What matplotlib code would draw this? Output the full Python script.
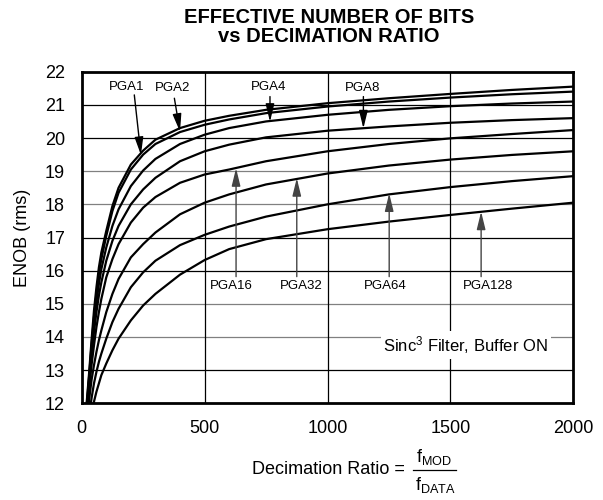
import numpy as np
import matplotlib
matplotlib.use("Agg")
import matplotlib.pyplot as plt
from matplotlib.lines import Line2D

plt.rcParams["font.family"] = ["Liberation Sans", "DejaVu Sans"]
plt.rcParams["mathtext.fontset"] = "custom"
plt.rcParams["mathtext.rm"] = "Liberation Sans"
plt.rcParams["mathtext.it"] = "Liberation Sans:italic"
plt.rcParams["mathtext.bf"] = "Liberation Sans:bold"

### Data ###
decimation = [20, 30, 40, 50, 60, 70, 80, 100, 125, 150, 200, 250, 300,
              400, 500, 600, 750, 1000, 1250, 1500, 1750, 2000]

enob_pga1 = [12.0, 12.9, 13.9, 14.8, 15.5, 16.1, 16.55, 17.2, 17.95, 18.5, 19.2, 19.62, 19.95,
             20.3, 20.52, 20.67, 20.85, 21.05, 21.2, 21.33, 21.45, 21.55]
enob_pga2 = [11.9, 12.8, 13.75, 14.6, 15.3, 15.9, 16.35, 17.05, 17.8, 18.35, 19.05, 19.5, 19.82,
             20.18, 20.4, 20.56, 20.75, 20.95, 21.1, 21.22, 21.32, 21.4]
enob_pga4 = [11.8, 12.7, 13.6, 14.4, 15.05, 15.6, 16.05, 16.7, 17.35, 17.85, 18.55, 19.02, 19.37,
             19.82, 20.1, 20.3, 20.5, 20.7, 20.85, 20.96, 21.04, 21.1]
enob_pga8 = [11.7, 12.6, 13.45, 14.15, 14.75, 15.25, 15.65, 16.3, 16.9, 17.35, 18.0, 18.45, 18.8,
             19.3, 19.6, 19.8, 20.02, 20.22, 20.35, 20.46, 20.54, 20.6]
enob_pga16 = [11.5, 12.4, 13.15, 13.75, 14.3, 14.75, 15.15, 15.8, 16.35, 16.8, 17.45, 17.9, 18.22,
              18.65, 18.9, 19.05, 19.3, 19.6, 19.82, 19.99, 20.12, 20.24]
enob_pga32 = [11.3, 12.1, 12.7, 13.15, 13.55, 13.9, 14.2, 14.75, 15.3, 15.75, 16.4, 16.8, 17.15,
              17.7, 18.05, 18.3, 18.6, 18.93, 19.17, 19.35, 19.49, 19.6]
enob_pga64 = [10.9, 11.6, 12.15, 12.6, 12.95, 13.25, 13.5, 13.95, 14.45, 14.85, 15.5, 15.95, 16.3,
              16.77, 17.08, 17.33, 17.63, 18.0, 18.3, 18.52, 18.7, 18.85]
enob_pga128 = [10.5, 11.2, 11.7, 12.05, 12.35, 12.6, 12.85, 13.2, 13.6, 13.95, 14.5, 14.95, 15.3,
               15.88, 16.32, 16.65, 16.95, 17.25, 17.48, 17.68, 17.87, 18.05]

curves = [enob_pga1, enob_pga2, enob_pga4, enob_pga8,
          enob_pga16, enob_pga32, enob_pga64, enob_pga128]

x_ticks = [0, 500, 1000, 1500, 2000]
y_ticks = list(range(12, 23))
gray_rows = [14, 15, 18, 19]

# label, text pos, arrow start, arrow tip
labels = [
    ("PGA1", (183, 21.53), (214, 21.30), (241, 19.49), "black"),
    ("PGA2", (370, 21.50), (377, 21.20), (400, 20.19), "black"),
    ("PGA4", (762, 21.53), (766, 21.25), (766, 20.49), "black"),
    ("PGA8", (1143, 21.50), (1146, 21.25), (1146, 20.29), "black"),
    ("PGA16", (610, 15.55), (628, 15.82), (628, 19.09), "#444444"),
    ("PGA32", (892, 15.55), (875, 15.82), (875, 18.79), "#444444"),
    ("PGA64", (1235, 15.55), (1251, 15.82), (1251, 18.33), "#444444"),
    ("PGA128", (1653, 15.55), (1625, 15.82), (1625, 17.78), "#444444"),
]

### Figure ###
fig = plt.figure(figsize=(6.03, 5.0), dpi=100)
ax = fig.add_axes([81.7 / 603, 1 - 403.3 / 500, (573.3 - 81.7) / 603, (403.3 - 71.7) / 500])

for y in y_ticks[1:-1]:
    ax.axhline(y, color="#808080" if y in gray_rows else "black", lw=0.9, zorder=1)
for x in x_ticks[1:-1]:
    ax.axvline(x, color="black", lw=0.9, zorder=1)

for enob in curves:
    ax.plot(decimation, enob, color="black", lw=1.6, zorder=3, solid_joinstyle="round")

for name, txt, start, tip, col in labels:
    ax.text(txt[0], txt[1], name, ha="center", va="center", fontsize=9.5, zorder=5)
    ax.annotate("", xy=tip, xytext=start,
                arrowprops=dict(arrowstyle="-|>,head_length=0.9,head_width=0.22",
                                color=col, lw=1.0, shrinkA=0, shrinkB=0,
                                mutation_scale=12),
                zorder=4)

ax.text(1898, 13.75, "Sinc$^3$ Filter, Buffer ON", ha="right", va="center", fontsize=12,
        bbox=dict(fc="white", ec="none", pad=2), zorder=4)

ax.set_xlim(0, 2000)
ax.set_ylim(12, 22)
ax.set_xticks(x_ticks)
ax.set_yticks(y_ticks)
ax.tick_params(length=0, pad=12, labelsize=13)
for sp in ax.spines.values():
    sp.set_linewidth(2.0)
    sp.set_zorder(6)

ax.set_ylabel("ENOB (rms)", fontsize=13, labelpad=10)

# x label with a hand-built fraction
fig.text(328 / 603, 1 - 469 / 500, "Decimation Ratio =", ha="center", va="center", fontsize=13)
fig.text(434 / 603, 1 - 457 / 500, r"f$_\mathrm{MOD}$", ha="center", va="center", fontsize=13)
fig.text(435 / 603, 1 - 485 / 500, r"f$_\mathrm{DATA}$", ha="center", va="center", fontsize=13)
fig.add_artist(Line2D([413 / 603, 456 / 603], [1 - 470 / 500, 1 - 470 / 500],
                      color="black", lw=0.9, transform=fig.transFigure))

fig.text(329 / 603, 1 - 27 / 500, "EFFECTIVE NUMBER OF BITS\nvs DECIMATION RATIO",
         ha="center", va="center", fontsize=14.5, fontweight="bold", linespacing=1.0)

fig.savefig("out.png", dpi=100)
